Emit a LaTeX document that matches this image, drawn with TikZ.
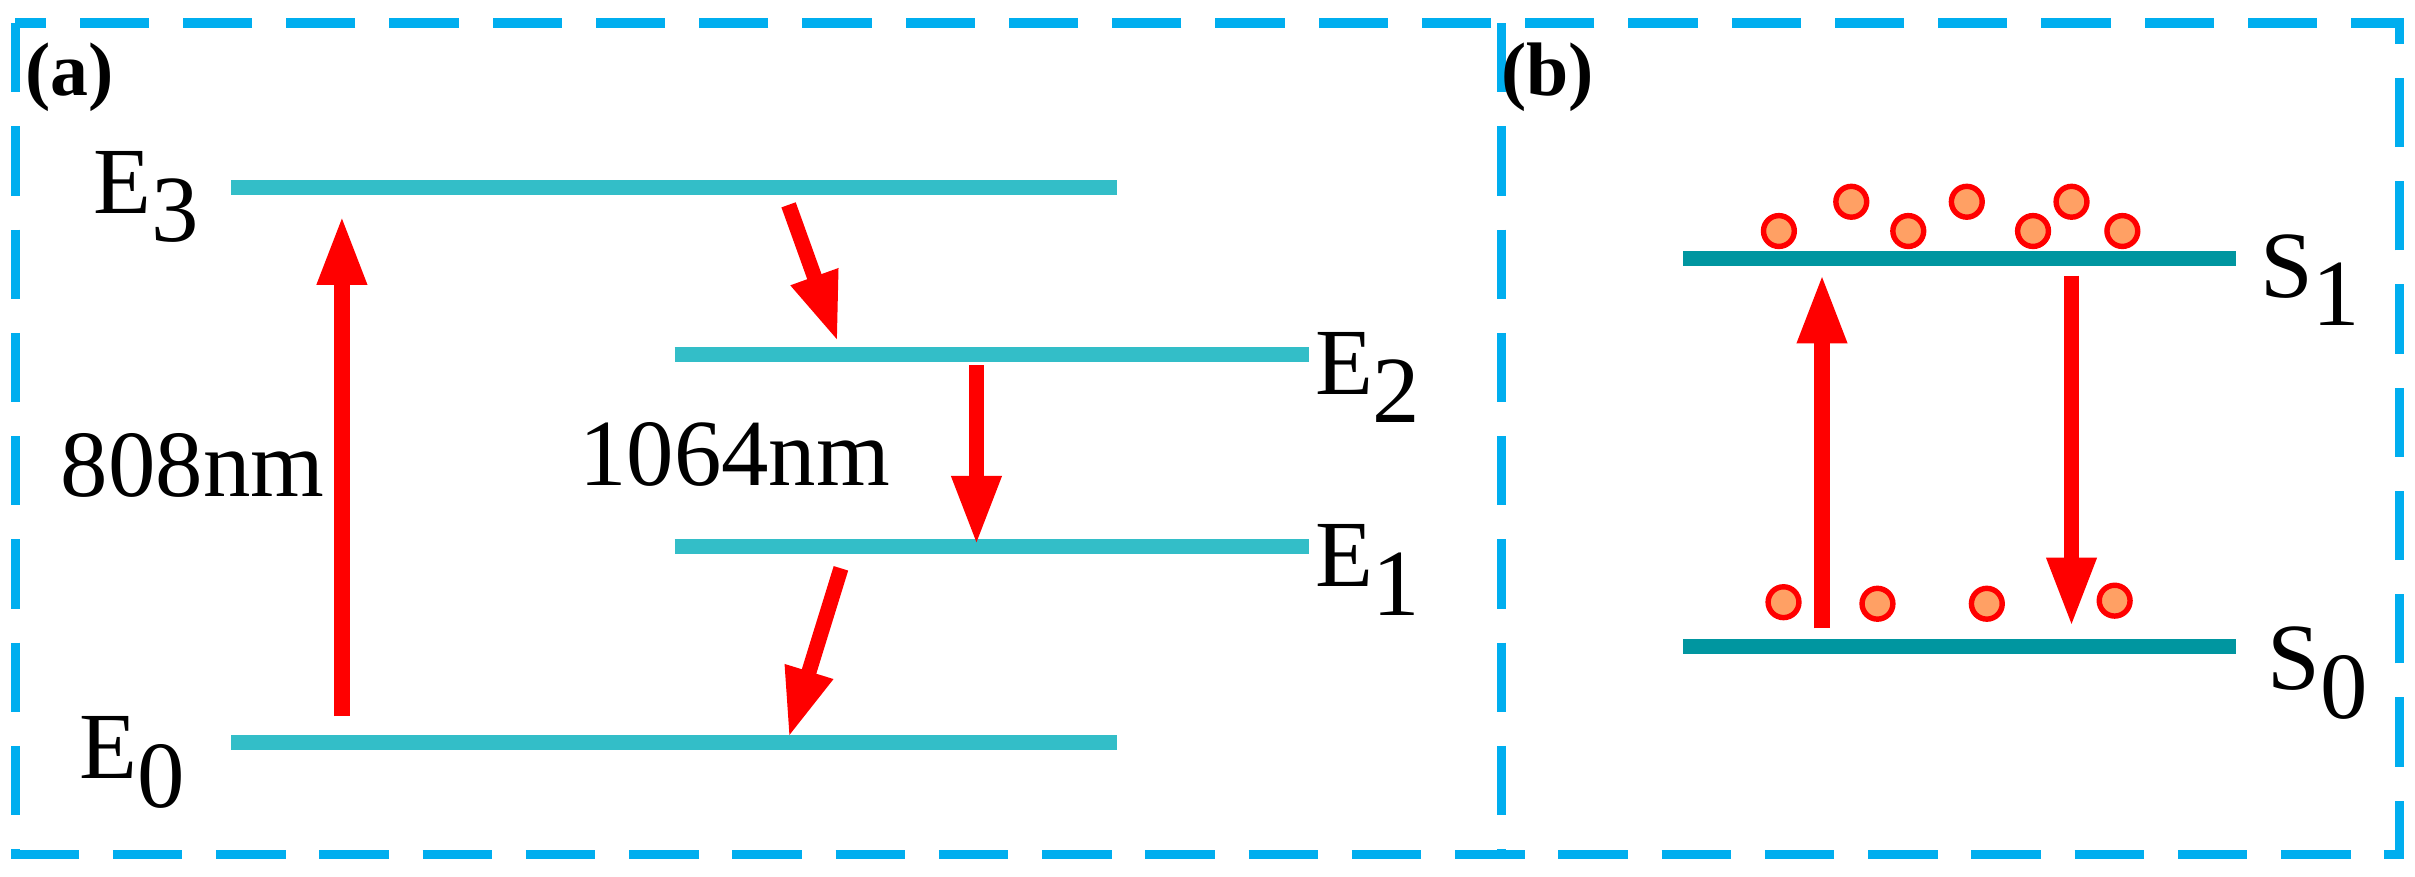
\documentclass[tikz,border=0pt]{standalone}
\usepackage{fontspec}
\setmainfont{Liberation Serif}
\usetikzlibrary{arrows.meta}
\definecolor{frame}{RGB}{0,174,239}
\definecolor{lvla}{RGB}{51,190,200}
\definecolor{lvlb}{RGB}{0,150,160}
\definecolor{dotf}{RGB}{255,160,100}
\newcommand{\sbs}[1]{\raisebox{-0.3em}{#1}}
\tikzset{
  frm/.style={draw=frame,line width=1.7pt,dash pattern=on 0.45cm off 0.22cm},
  lva/.style={draw=lvla,line width=2.8pt},
  lvb/.style={draw=lvlb,line width=2.8pt},
  arr/.style={draw=red,line width=2.8pt,-{Triangle[length=0.45cm,width=0.3cm]}},
  lab/.style={font=\fontsize{17.5}{20}\selectfont,inner sep=0pt},
  pan/.style={font=\fontsize{14}{16}\selectfont\bfseries,inner sep=0pt},
  dot/.style={circle,draw=red,fill=dotf,line width=1pt,minimum size=0.2cm,inner sep=0pt}
}
\begin{document}
\begin{tikzpicture}[x=0.01cm,y=-0.01cm]
\useasboundingbox (0,0) rectangle (1568,569.4);
\draw[frm] (10,15) rectangle (1558,555);
\draw[frm] (975,15) -- (975,555);
\node[pan] (pa) at (45,50) {(a)};
\node[pan] (pb) at (1005,50) {(b)};
% panel a levels
\coordinate (e3l) at (150,122); \coordinate (e3r) at (725,122);
\coordinate (e2l) at (438,230); \coordinate (e2r) at (850,230);
\coordinate (e1l) at (438,355); \coordinate (e1r) at (850,355);
\coordinate (e0l) at (150,482); \coordinate (e0r) at (725,482);
\draw[lva] (e3l) -- (e3r);
\draw[lva] (e2l) -- (e2r);
\draw[lva] (e1l) -- (e1r);
\draw[lva] (e0l) -- (e0r);
\node[lab] (E3) at (95,128) {E\sbs{3}};
\node[lab] (E2) at (888,245) {E\sbs{2}};
\node[lab] (E1) at (888,370) {E\sbs{1}};
\node[lab] (E0) at (86,495) {E\sbs{0}};
\node[lab] (l808) at (125,302) {808nm};
\node[lab] (l1064) at (477,295) {1064nm};
\coordinate (a1s) at (222,465); \coordinate (a1e) at (222,140);
\draw[arr] (a1s) -- (a1e);
\coordinate (a2s) at (512,133); \coordinate (a2e) at (544,222);
\draw[arr] (a2s) -- (a2e);
\coordinate (a3s) at (634,237); \coordinate (a3e) at (634,354);
\draw[arr] (a3s) -- (a3e);
\coordinate (a4s) at (546,369); \coordinate (a4e) at (512,479);
\draw[arr] (a4s) -- (a4e);
% panel b
\coordinate (s1l) at (1093,168); \coordinate (s1r) at (1452,168);
\coordinate (s0l) at (1093,420); \coordinate (s0r) at (1452,420);
\draw[lvb] (s1l) -- (s1r);
\draw[lvb] (s0l) -- (s0r);
\node[lab] (S1) at (1500,182) {S\sbs{1}};
\node[lab] (S0) at (1505,437) {S\sbs{0}};
\coordinate (b1s) at (1183,408); \coordinate (b1e) at (1183,178);
\draw[arr] (b1s) -- (b1e);
\coordinate (b2s) at (1345,179); \coordinate (b2e) at (1345,407);
\draw[arr] (b2s) -- (b2e);
\foreach \x/\y [count=\i] in {1155/150,1202/131,1239/150,1277/131,1320/150,1345/131,1378/150,1158/391,1219/392,1290/392,1373/390}
  \node[dot] (d\i) at (\x,\y) {};
\end{tikzpicture}
\end{document}
